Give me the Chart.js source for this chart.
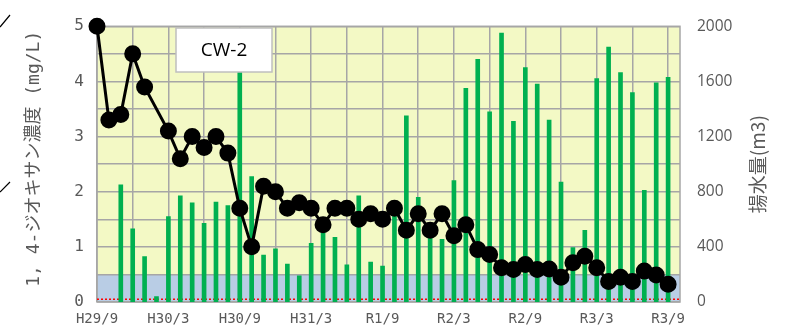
<!DOCTYPE html>
<html>
<head>
<meta charset="utf-8">
<script src="https://cdn.jsdelivr.net/npm/chart.js@4.4.1/dist/chart.umd.min.js"></script>
<style>
  html, body { margin: 0; padding: 0; background: #fff; }
  canvas { display: block; }
</style>
</head>
<body>
<canvas id="chart" width="795" height="336"></canvas>
<script>
// monthly samples, H29/9 .. R3/9 (index = months since H29/9)
const tickLabels = ['H29/9', 'H30/3', 'H30/9', 'H31/3', 'R1/9', 'R2/3', 'R2/9', 'R3/3', 'R3/9'];

// 1,4-dioxane concentration (mg/L)
const concentration = [5.0, 3.3, 3.4, 4.5, 3.9, null, 3.1, 2.6, 3.0, 2.8, 3.0, 2.7,
  1.7, 1.0, 2.1, 2.0, 1.7, 1.8, 1.7, 1.4, 1.7, 1.7, 1.5, 1.6,
  1.5, 1.7, 1.3, 1.6, 1.3, 1.6, 1.2, 1.4, 0.95, 0.86, 0.62, 0.59,
  0.68, 0.59, 0.6, 0.45, 0.71, 0.83, 0.62, 0.37, 0.45, 0.37, 0.56, 0.49, 0.32];

// pumped volume (m3)
const pumping = [null, null, 850, 530, 330, 40, 620, 770, 720, 570, 725, 700,
  1750, 910, 340, 385, 275, 190, 425, 570, 470, 270, 770, 290,
  260, 680, 1350, 760, 500, 455, 880, 1550, 1760, 1380, 1950, 1310,
  1700, 1580, 1320, 870, 395, 520, 1620, 1850, 1665, 1520, 810, 1590, 1630];

const bandTop = 0.5;   // shaded band 0 - 0.5 mg/L
const limit = 0.05;    // standard value (dotted red)

const grey = '#595959';
const gridColor = '#a6a6a6';

const backdrop = {
  id: 'backdrop',
  beforeDraw(chart) {
    const { ctx, chartArea: a, scales: { y } } = chart;
    ctx.save();
    ctx.fillStyle = '#f3f9c5';
    ctx.fillRect(a.left, a.top, a.width, a.height);
    const yb = y.getPixelForValue(bandTop);
    ctx.fillStyle = '#b9cde5';
    ctx.fillRect(a.left, yb, a.width, a.bottom - yb);
    ctx.restore();
  },
  beforeDatasetsDraw(chart) {
    const { ctx, chartArea: a, scales: { y } } = chart;
    ctx.save();
    ctx.strokeStyle = gridColor;
    ctx.lineWidth = 1.5;
    ctx.strokeRect(a.left, a.top, a.width, a.height);
    const yl = y.getPixelForValue(limit);
    ctx.strokeStyle = '#ff0000';
    ctx.setLineDash([2, 2]);
    ctx.beginPath();
    ctx.moveTo(a.left, yl);
    ctx.lineTo(a.right, yl);
    ctx.stroke();
    ctx.restore();
  },
  afterDraw(chart) {
    const { ctx, chartArea: a } = chart;
    ctx.save();
    // well name box
    ctx.fillStyle = '#fff';
    ctx.fillRect(176, 28, 96, 44);
    ctx.strokeStyle = '#bfbfbf';
    ctx.lineWidth = 1.5;
    ctx.strokeRect(176, 28, 96, 44);
    ctx.fillStyle = '#000';
    ctx.font = '19px "Open Sans"';
    ctx.textAlign = 'center';
    ctx.textBaseline = 'middle';
    ctx.fillText('CW-2', 224, 51);
    // right axis title, reading bottom to top
    ctx.translate(758, (a.top + a.bottom) / 2);
    ctx.rotate(-Math.PI / 2);
    ctx.fillStyle = grey;
    ctx.font = '19px "Noto Sans CJK JP"';
    ctx.fillText('揚水量(m3)', 0, 0);
    ctx.setTransform(1, 0, 0, 1, 0, 0);
    // stray marks at left edge
    ctx.strokeStyle = '#000';
    ctx.lineWidth = 1.2;
    ctx.beginPath();
    ctx.moveTo(0, 27); ctx.lineTo(10, 15);
    ctx.moveTo(0, 192); ctx.lineTo(10, 182);
    ctx.stroke();
    ctx.restore();
  }
};

new Chart(document.getElementById('chart'), {
  type: 'line',
  data: {
    datasets: [{
      type: 'line',
      label: '1,4-ジオキサン濃度',
      data: concentration.map((v, i) => ({ x: i, y: v })),
      yAxisID: 'y',
      borderColor: '#000',
      borderWidth: 3,
      pointRadius: 7,
      pointBackgroundColor: '#000',
      pointBorderColor: '#000',
      spanGaps: true,
      clip: false,
      order: 0
    }, {
      type: 'bar',
      label: '揚水量',
      data: pumping.map((v, i) => ({ x: i, y: v })),
      yAxisID: 'y2',
      backgroundColor: '#00b050',
      barThickness: 4,
      order: 1
    }]
  },
  options: {
    responsive: false,
    animation: false,
    devicePixelRatio: 1,
    layout: { padding: { top: 18, left: 0, right: 0, bottom: 0 } },
    plugins: { legend: { display: false }, tooltip: { enabled: false } },
    scales: {
      x: {
        type: 'linear',
        min: 0,
        max: 49,
        offset: false,
        afterBuildTicks: s => { s.ticks = Array.from({ length: 17 }, (_, k) => ({ value: k * 3 })); },
        afterFit: s => { s.height = 34; },
        grid: { color: gridColor, lineWidth: 1.5, drawTicks: false, offset: false },
        border: { display: false },
        ticks: {
          autoSkip: false,
          maxRotation: 0,
          padding: 9,
          color: grey,
          font: { family: '"DejaVu Sans Mono"', size: 14 },
          callback: v => (v % 6 === 0 ? tickLabels[v / 6] : '')
        }
      },
      y: {
        position: 'left',
        min: 0,
        max: 5,
        afterFit: s => { s.width = 97; },
        grid: { color: gridColor, lineWidth: 1.5, drawTicks: false },
        border: { display: false },
        ticks: {
          stepSize: 0.5,
          padding: 13,
          color: grey,
          font: { family: '"DejaVu Sans Mono"', size: 16 },
          callback: v => (Number.isInteger(v) ? v : '')
        },
        title: {
          display: true,
          text: ' 1, 4-ジオキサン濃度 (mg/L)',
          color: grey,
          font: { family: '"DejaVu Sans Mono", "Noto Sans CJK JP"', size: 18 },
          padding: { top: 24, bottom: 0 }
        }
      },
      y2: {
        position: 'right',
        min: 0,
        max: 2000,
        afterFit: s => { s.width = 115; },
        grid: { display: false, drawTicks: false },
        border: { display: false },
        ticks: {
          stepSize: 400,
          padding: 17,
          color: grey,
          font: { family: '"Open Sans"', size: 15.5 },
          callback: v => String(v)
        }
      }
    }
  },
  plugins: [backdrop]
});
</script>
</body>
</html>
